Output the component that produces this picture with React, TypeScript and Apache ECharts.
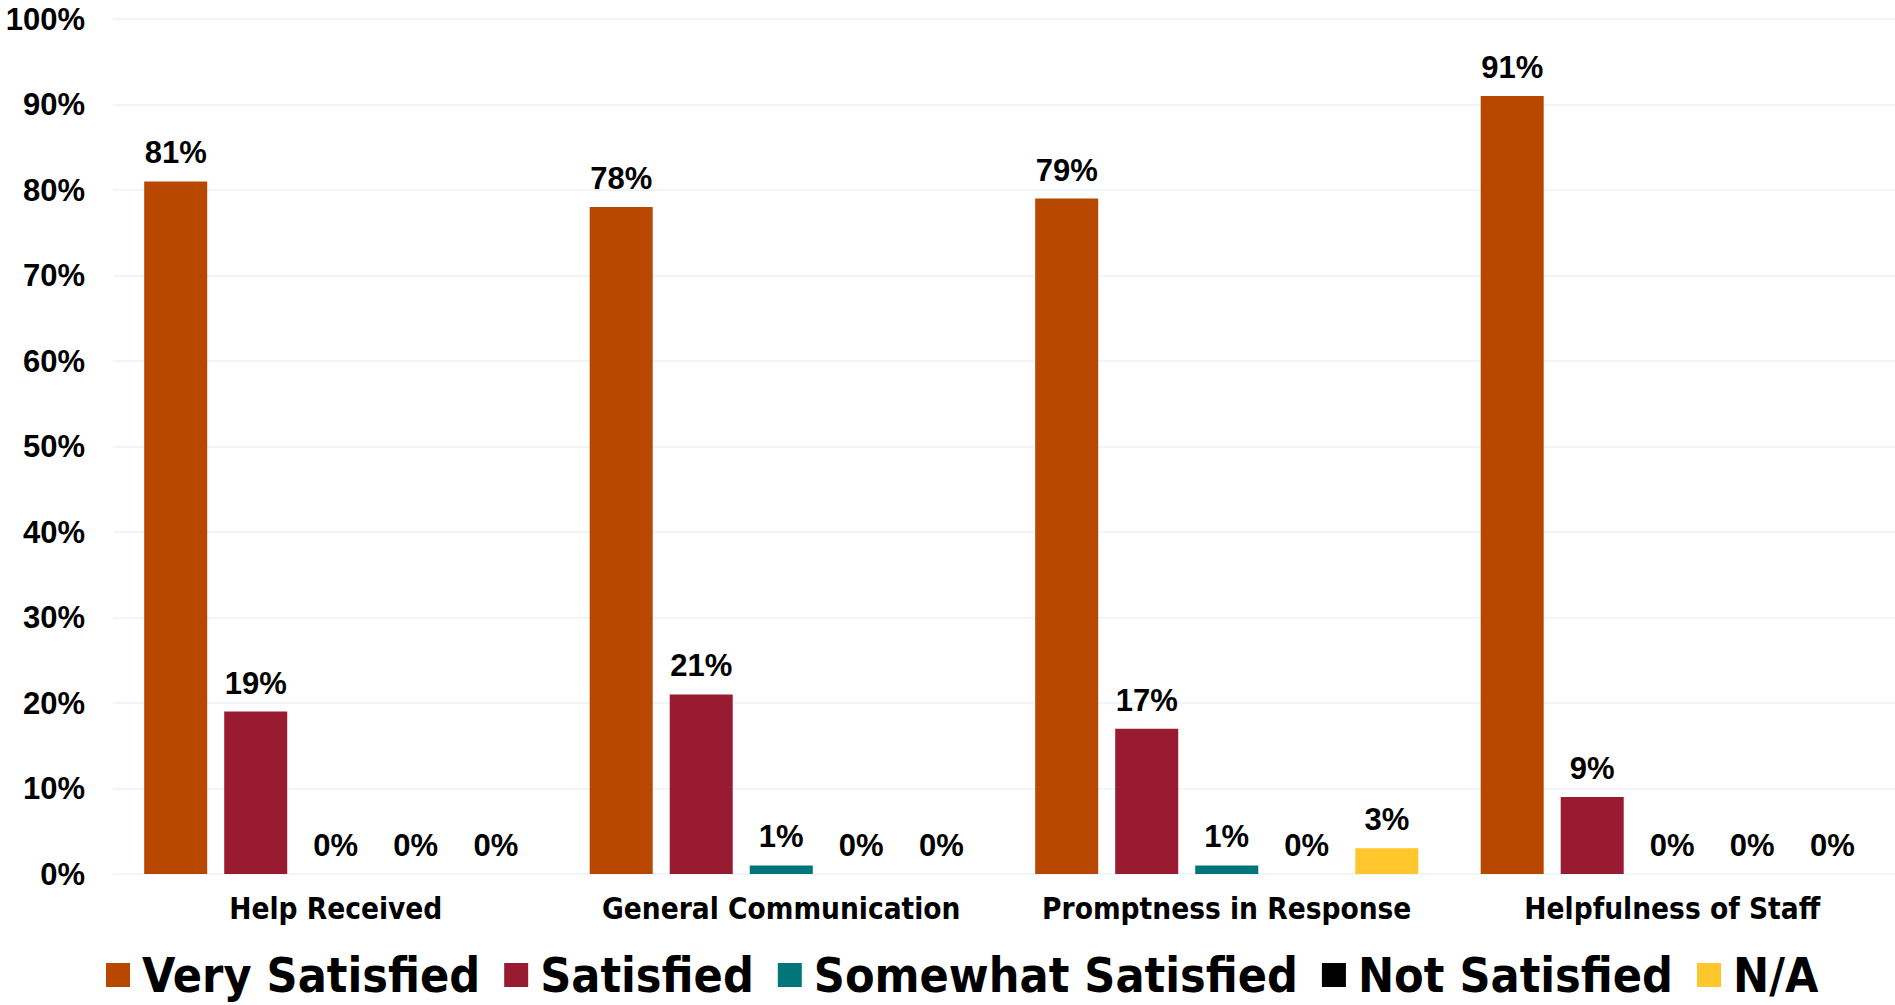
import React, { useEffect, useRef } from "react";
import * as echarts from "echarts";

const categories = ["Help Received", "General Communication", "Promptness in Response", "Helpfulness of Staff"];
const seriesNames = ["Very Satisfied", "Satisfied", "Somewhat Satisfied", "Not Satisfied", "N/A"];
const verySatisfied = [81, 78, 79, 91];
const satisfied = [19, 21, 17, 9];
const somewhatSatisfied = [0, 1, 1, 0];
const notSatisfied = [0, 0, 0, 0];
const notApplicable = [0, 0, 3, 0];
const seriesColors = ["#B84700", "#981B32", "#00767B", "#000000", "#FFC72C"];

export default function App() {
  const ref = useRef<HTMLDivElement>(null);
  useEffect(() => {
    if (!ref.current) return;
    const chart = echarts.init(ref.current, null, { renderer: "svg" });
    const values = [verySatisfied, satisfied, somewhatSatisfied, notSatisfied, notApplicable];
    const labelFont = "'Liberation Sans', Arial, sans-serif";
    const condFont = "'DejaVu Sans Condensed', 'DejaVu Sans', sans-serif";
    chart.setOption({
      animation: false,
      backgroundColor: "#ffffff",
      grid: { left: 113, right: 0, top: 19, bottom: 131, containLabel: false },
      legend: {
        data: seriesNames,
        left: 106,
        top: 951,
        padding: 0,
        itemWidth: 24,
        itemHeight: 24,
        itemGap: 24,
        icon: "rect",
        textStyle: { fontFamily: condFont, fontWeight: "bold", fontSize: 48, color: "#000", padding: [0, 0, 0, 7] },
      },
      xAxis: {
        type: "category",
        data: categories,
        axisLine: { show: true, lineStyle: { color: "#EEF6F9" } },
        axisTick: { show: false },
        axisLabel: {
          interval: 0,
          hideOverlap: false,
          fontFamily: condFont,
          fontWeight: "bold",
          fontSize: 29.5,
          color: "#000",
          margin: 20,
        },
      },
      yAxis: {
        type: "value",
        min: 0,
        max: 100,
        interval: 10,
        axisLine: { show: false },
        axisTick: { show: false },
        splitLine: { lineStyle: { color: "#EEF6F9", width: 2 } },
        axisLabel: {
          formatter: "{value}%",
          fontFamily: labelFont,
          fontWeight: "bold",
          fontSize: 31,
          color: "#000",
          margin: 28,
        },
      },
      series: seriesNames.map((name, i) => ({
        name,
        type: "bar",
        data: values[i],
        barGap: "27%",
        barCategoryGap: "14%",
        itemStyle: { color: seriesColors[i] },
        label: {
          show: true,
          position: "top",
          distance: 13,
          formatter: "{c}%",
          fontFamily: labelFont,
          fontWeight: "bold",
          fontSize: 31,
          color: "#000",
        },
      })),
    });
    return () => chart.dispose();
  }, []);
  return <div ref={ref} style={{ position: "fixed", left: 0, top: 0, width: 1895, height: 1005 }} />;
}
